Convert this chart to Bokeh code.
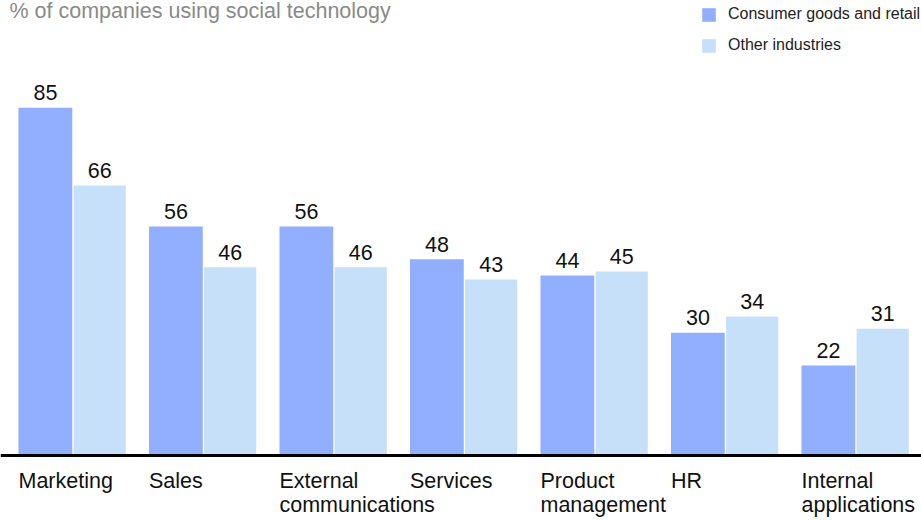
import numpy as np
from bokeh.plotting import figure
from bokeh.models import Range1d, Span, Label, Legend, LegendItem
from bokeh.core.properties import value
from bokeh.embed import file_html
from bokeh.resources import INLINE

# ---- data ----
categories = ["Marketing", "Sales", "External\ncommunications", "Services",
              "Product\nmanagement", "HR", "Internal\napplications"]
consumer_goods = [85, 56, 56, 48, 44, 30, 22]
other_industries = [66, 46, 46, 43, 45, 34, 31]
series_names = ["Consumer goods and retail", "Other industries"]
title_text = "% of companies using social technology"

DARK = "#92AEFF"
LIGHT = "#C6E0FA"
FONT_NAME = "Liberation Sans"
FONT = value(FONT_NAME)
FS = "21.5px"

W, H = 921, 520
PX_X = 130.5          # pixels per group
PX_Y = 4.0906         # pixels per percentage point
X0 = 18               # canvas x of first group start
Y0 = 455              # canvas y of baseline

p = figure(width=W, height=H,
           x_range=Range1d(-X0 / PX_X, (W - X0) / PX_X),
           y_range=Range1d(-(H - Y0) / PX_Y, Y0 / PX_Y),
           x_axis_location=None, y_axis_location=None,
           toolbar_location=None, output_backend="svg",
           min_border=0, min_border_left=0, min_border_right=0,
           min_border_top=0, min_border_bottom=0,
           outline_line_color=None, background_fill_color="white",
           border_fill_color="white")
p.grid.visible = False

idx = np.arange(len(categories))
dark_x = idx + 0.206
light_x = idx + 0.622

r1 = p.vbar(x=dark_x, top=consumer_goods, bottom=0, width=0.412,
            fill_color=DARK, line_color=None)
r2 = p.vbar(x=light_x, top=other_industries, bottom=0, width=0.40,
            fill_color=LIGHT, line_color=None)

p.add_layout(Span(location=0, dimension="width", line_color="black", line_width=3))

# value labels
p.text(x=dark_x, y=consumer_goods, text=[str(v) for v in consumer_goods],
       text_font=FONT, text_font_size=FS, text_color="#111111",
       text_align="center", text_baseline="alphabetic", y_offset=-15)
p.text(x=light_x, y=other_industries, text=[str(v) for v in other_industries],
       text_font=FONT, text_font_size=FS, text_color="#111111",
       text_align="center", text_baseline="alphabetic", y_offset=-15)

# category labels (left aligned at group start, up to two lines)
line1 = [c.split("\n")[0] for c in categories]
line2 = [c.split("\n")[1] if "\n" in c else "" for c in categories]
p.text(x=idx, y=np.zeros(len(idx)), text=line1, text_font=FONT,
       text_font_size=FS, text_color="#111111", text_align="left",
       text_baseline="alphabetic", y_offset=25)
p.text(x=idx, y=np.zeros(len(idx)), text=line2, text_font=FONT,
       text_font_size=FS, text_color="#111111", text_align="left",
       text_baseline="alphabetic", y_offset=49)

# title
p.add_layout(Label(x=9, y=H - 10, x_units="screen", y_units="screen",
                   text=title_text, text_font=FONT_NAME, text_font_size=FS,
                   text_color="#8A8A8A", text_baseline="alphabetic"))

legend = Legend(items=[LegendItem(label=series_names[0], renderers=[r1]),
                       LegendItem(label=series_names[1], renderers=[r2])],
                location=(700, H - 7 - 47), orientation="vertical",
                glyph_width=17, glyph_height=17, label_height=17,
                spacing=13, label_standoff=11, padding=0, margin=0,
                border_line_alpha=0, background_fill_alpha=0,
                label_text_font=FONT_NAME, label_text_font_size="16px",
                label_text_color="#222222")
p.add_layout(legend)

open("out.html", "w").write(file_html(p, INLINE))
